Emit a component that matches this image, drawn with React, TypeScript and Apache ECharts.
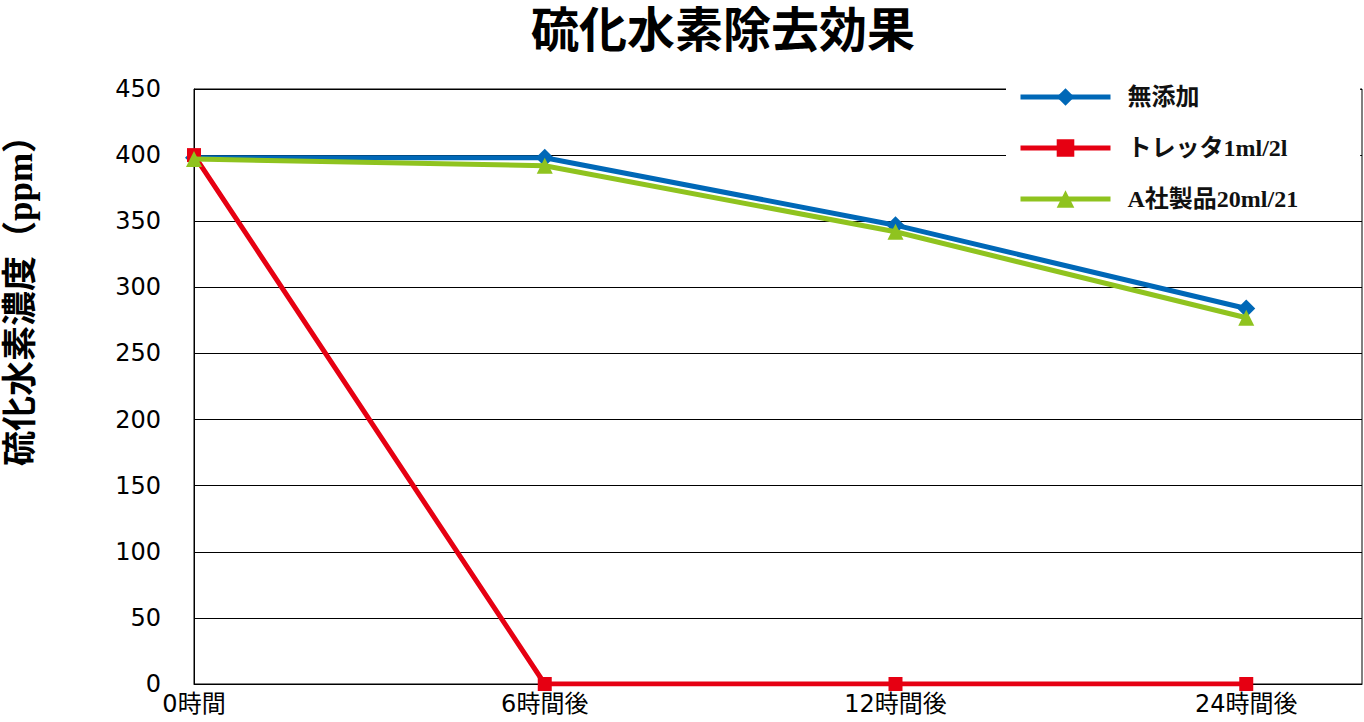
import React, { useEffect, useRef } from "react";
import * as echarts from "echarts";

const categories = ["0時間", "6時間後", "12時間後", "24時間後"];
const seriesNames = ["無添加", "トレッタ1ml/2l", "A社製品20ml/21"];
const mutenka = [398, 398, 347, 284];
const toretta = [400, 0, 0, 0];
const companyA = [397, 392, 342, 277];
const yTicks = { min: 0, max: 450, interval: 50 };
const yAxisTitle = "硫化水素濃度（ppm）";
const chartTitle = "硫化水素除去効果";

const sansFont = "'DejaVu Sans', 'Noto Sans CJK JP', sans-serif";
const serifFont = "'Liberation Serif', 'DejaVu Serif', 'Noto Sans CJK JP', serif";

export default function App() {
  const ref = useRef<HTMLDivElement>(null);
  useEffect(() => {
    if (!ref.current) return;
    const chart = echarts.init(ref.current, null, { renderer: "svg" });
    const toPts = (arr: number[]) => arr.map((v, i) => [i, v]);
    chart.setOption({
      animation: false,
      backgroundColor: "#ffffff",
      title: {
        text: chartTitle,
        left: 531,
        top: 4,
        padding: 0,
        textStyle: { fontFamily: serifFont, fontWeight: "bold", fontSize: 48, lineHeight: 52, color: "#000" },
      },
      graphic: [
        {
          type: "text",
          x: 20,
          y: 292,
          rotation: Math.PI / 2,
          style: {
            text: yAxisTitle,
            fontFamily: serifFont,
            fontWeight: "bold",
            fontSize: 35,
            fill: "#000",
            align: "center",
            verticalAlign: "middle",
          },
        },
      ],
      legend: {
        orient: "vertical",
        left: 1006,
        top: 77,
        backgroundColor: "#ffffff",
        padding: [8, 62, 10, 12],
        itemWidth: 90,
        itemHeight: 22,
        itemGap: 27,
        lineStyle: { width: 5 },
        textStyle: {
          fontFamily: serifFont,
          fontWeight: "bold",
          fontSize: 24,
          color: "#111",
          padding: [0, 0, 0, 12],
        },
        data: seriesNames,
      },
      grid: {
        left: 194,
        right: 2,
        top: 89,
        bottom: 38,
        show: true,
        borderColor: "#000",
        borderWidth: 1,
        backgroundColor: "transparent",
        outerBoundsMode: "none",
        containLabel: false,
      },
      xAxis: {
        type: "value",
        min: 0,
        max: 3.33,
        interval: 1,
        splitLine: { show: false },
        axisTick: { show: false },
        axisLine: { show: true, lineStyle: { color: "#000", width: 1 } },
        axisLabel: {
          showMaxLabel: false,
          margin: 8,
          fontFamily: sansFont,
          fontSize: 24,
          color: "#000",
          formatter: (v: number) => (Number.isInteger(v) && categories[v]) || "",
        },
      },
      yAxis: {
        type: "value",
        min: yTicks.min,
        max: yTicks.max,
        interval: yTicks.interval,
        axisLine: { show: true, lineStyle: { color: "#000", width: 1 } },
        axisTick: { show: false },
        splitLine: { show: true, lineStyle: { color: "#000", width: 1 } },
        axisLabel: { margin: 33, fontFamily: sansFont, fontSize: 24, color: "#000" },
      },
      series: [
        {
          name: seriesNames[0],
          type: "line",
          data: toPts(mutenka),
          symbol: "diamond",
          symbolSize: 18,
          z: 3,
          lineStyle: { color: "#0068B7", width: 5 },
          itemStyle: { color: "#0068B7" },
        },
        {
          name: seriesNames[1],
          type: "line",
          data: toPts(toretta),
          symbol: "rect",
          symbolSize: 14,
          z: 4,
          lineStyle: { color: "#E60012", width: 5 },
          itemStyle: { color: "#E60012" },
        },
        {
          name: seriesNames[2],
          type: "line",
          data: toPts(companyA),
          symbol: "triangle",
          symbolSize: 16,
          z: 5,
          lineStyle: { color: "#8FC31F", width: 5 },
          itemStyle: { color: "#8FC31F" },
        },
      ],
    });
    return () => chart.dispose();
  }, []);
  return (
    <div
      ref={ref}
      style={{ position: "absolute", left: 0, top: 0, width: 1364, height: 722 }}
    />
  );
}
